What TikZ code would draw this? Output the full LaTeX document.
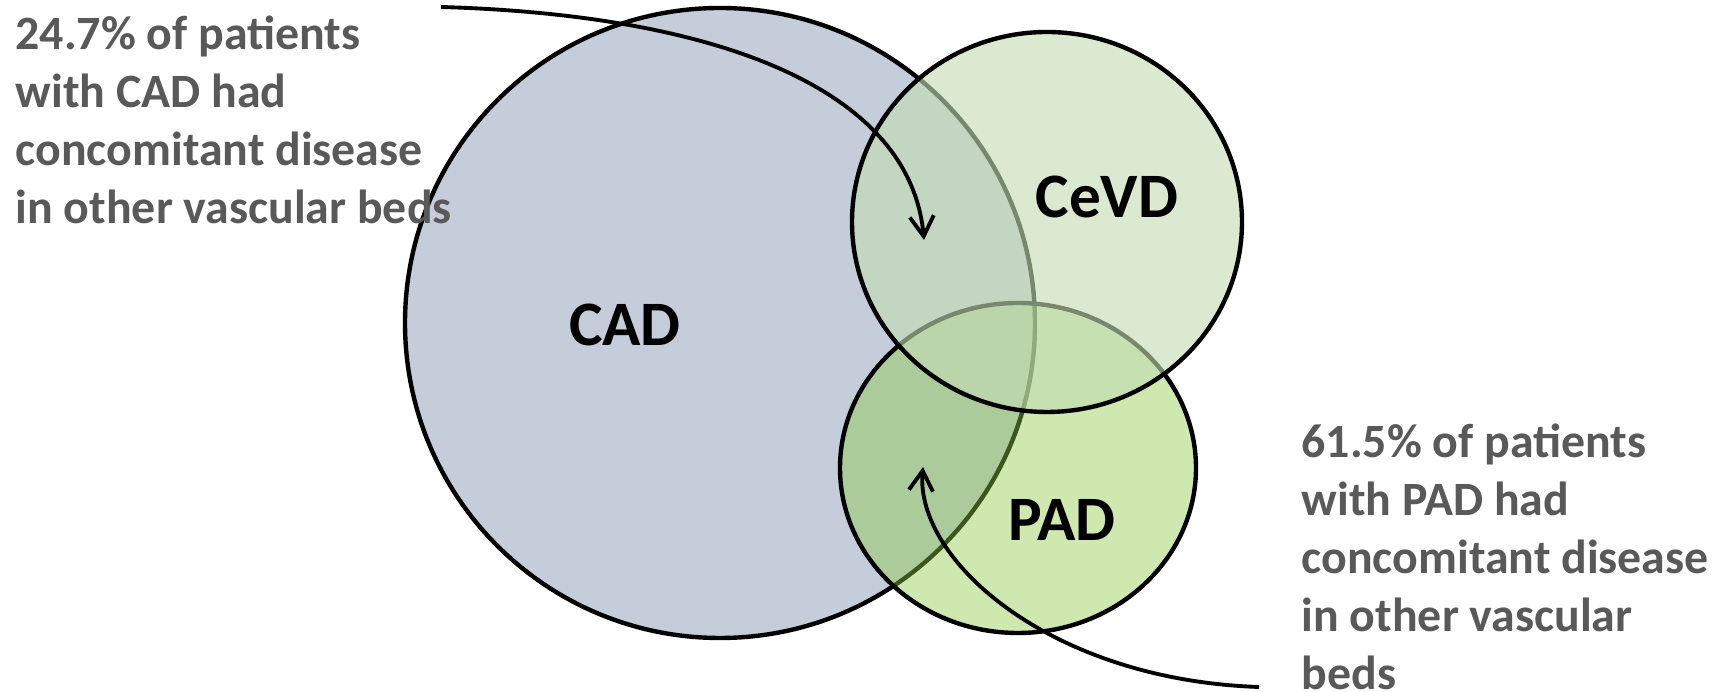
\documentclass[tikz,border=0pt]{standalone}
\usepackage{fontspec}
\setmainfont{Carlito}
\usetikzlibrary{arrows.meta}

\definecolor{cadfill}{RGB}{197,205,219}
\definecolor{cevdfill}{RGB}{195,220,179}
\definecolor{padfill}{RGB}{141,201,71}
\definecolor{notegrey}{RGB}{89,89,89}

\tikzset{
  venn/.style={draw=black, line width=1.25pt},
  setlabel/.style={font=\fontsize{18}{22}\selectfont\bfseries, text=black, inner sep=0pt},
  note/.style={font=\fontsize{13.6}{16.5}\selectfont\bfseries, text=notegrey, align=left, anchor=west, inner sep=0pt},
  pointer/.style={line width=1.1pt, -{Straight Barb[length=2mm,width=2.4mm]}}
}

\begin{document}
\begin{tikzpicture}[x=0.01cm, y=-0.01cm]
        \useasboundingbox (0,0) rectangle (1717,692);
        % the three vascular beds
        \filldraw[venn, fill=cadfill] (720,323) circle [x radius=315, y radius=315];
        \filldraw[venn, fill=padfill, fill opacity=0.43] (1018,468) circle [x radius=178, y radius=165];
        \filldraw[venn, fill=cevdfill, fill opacity=0.62] (1047,222) circle [x radius=195, y radius=190];
        \node[setlabel] (cad) at (625,325) {CAD};
        \node[setlabel] (cevd) at (1107,197) {CeVD};
        \node[setlabel] (pad) at (1062,520) {PAD};
        % pointers from the notes
        \coordinate (cadtail) at (441,7);
        \coordinate (cadtip) at (924,240);
        \coordinate (padtail) at (1259,687);
        \coordinate (padtip) at (923,467);
        \draw[pointer] (cadtail) .. controls (720,15) and (910,90) .. (cadtip);
        \draw[pointer] (padtail) .. controls (1050,680) and (915,560) .. (padtip);
        \node[note] (cadnote) at (15,120) {24.7\% of patients\\with CAD had\\concomitant disease\\in other vascular beds};
        \node[note] (padnote) at (1301,557) {61.5\% of patients\\with PAD had\\concomitant disease\\in other vascular\\beds};
    \end{tikzpicture}
\end{document}
